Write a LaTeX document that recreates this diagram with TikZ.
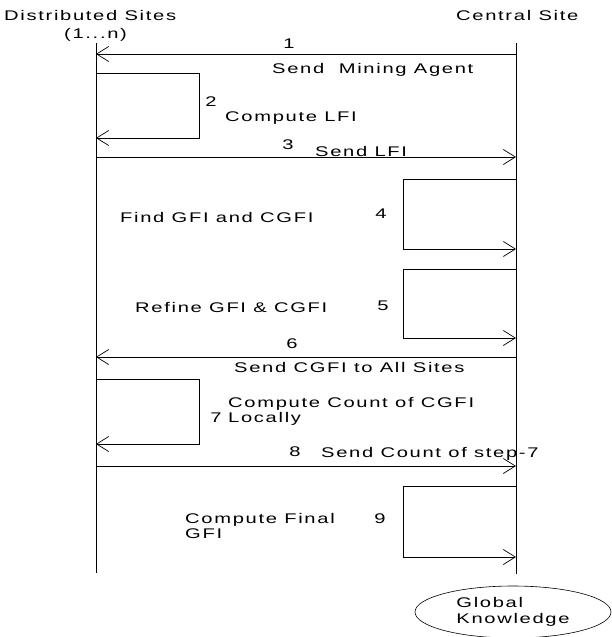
\documentclass[tikz,border=0pt]{standalone}
\usepackage{fontspec}
\newfontfamily\diagfont[FakeStretch=1.44,LetterSpace=12]{Liberation Sans}
\usetikzlibrary{arrows.meta,shapes.geometric}
\newcommand{\msgsize}{\fontsize{14}{15.5}\selectfont}
\tikzset{
 every node/.append style={font=\diagfont\msgsize,text=black,inner sep=0pt},
 lifeline/.style={draw=black,line width=.9pt},
 msg/.style={-{Straight Barb[length=12pt,width=15pt,line width=.7pt]},draw=black,line width=.9pt},
 lbl/.style={anchor=west,text height=10pt,text depth=0pt},
 twoline/.style={anchor=north west,align=left},
 stepnum/.style={anchor=center,text height=10pt,text depth=0pt},
 store/.style={ellipse,draw=black,line width=.6pt,minimum width=196pt,minimum height=52pt,align=left},
}

\begin{document}
\begin{tikzpicture}[x=1pt,y=-1pt]

\useasboundingbox (0,0) rectangle (611,637);
\node[lbl] (dist) at (4,15) {Distributed Sites};
\node[lbl] (range) at (64,33) {(1...n)};
\node[lbl] (central) at (456,15) {Central Site};
\coordinate (Ltop) at (96,43); \coordinate (Lbot) at (96,573);
\coordinate (Rtop) at (516,43); \coordinate (Rbot) at (516,574);
\draw[lifeline] (Ltop) -- (Lbot); \draw[lifeline] (Rtop) -- (Rbot);
% messages between the sites
\coordinate (r1) at (516,54); \coordinate (l1) at (96,54);
\draw[msg] (r1) -- (l1);
\node[stepnum] (n1) at (289,43) {1};
\node[lbl] (t1) at (272,68) {Send\ \ Mining Agent};
\coordinate (l2a) at (96,73); \coordinate (l2b) at (96,138);
\draw[msg] (l2a) -- ++(103,0) |- (l2b);
\node[stepnum] (n2) at (211,101) {2};
\node[lbl] (t2) at (225,116) {Compute LFI};
\coordinate (l3) at (96,157); \coordinate (r3) at (516,157);
\draw[msg] (l3) -- (r3);
\node[stepnum] (n3) at (288,144) {3};
\node[lbl] (t3) at (315,151) {Send LFI};
\coordinate (r4a) at (516,179); \coordinate (r4b) at (516,249);
\draw[msg] (r4a) -- ++(-113,0) |- (r4b);
\node[stepnum] (n4) at (381,213) {4};
\node[lbl] (t4) at (120,217) {Find GFI and CGFI};
\coordinate (r5a) at (516,269); \coordinate (r5b) at (516,338);
\draw[msg] (r5a) -- ++(-113,0) |- (r5b);
\node[stepnum] (n5) at (383,305) {5};
\node[lbl] (t5) at (135,307) {Refine GFI \& CGFI};
\coordinate (r6) at (516,357); \coordinate (l6) at (96,357);
\draw[msg] (r6) -- (l6);
\node[stepnum] (n6) at (292,343) {6};
\node[lbl] (t6) at (234,367) {Send CGFI to All Sites};
\coordinate (l7a) at (96,379); \coordinate (l7b) at (96,444);
\draw[msg] (l7a) -- ++(103,0) |- (l7b);
\node[stepnum] (n7) at (216,417) {7};
\node[twoline] (t7) at (228,397) {Compute Count of CGFI\\Locally};
\coordinate (l8) at (96,466); \coordinate (r8) at (516,466);
\draw[msg] (l8) -- (r8);
\node[stepnum] (n8) at (295,451) {8};
\node[lbl] (t8) at (321,452) {Send Count of step-7};
\coordinate (r9a) at (516,486); \coordinate (r9b) at (516,557);
\draw[msg] (r9a) -- ++(-113,0) |- (r9b);
\node[stepnum] (n9) at (380,518) {9};
\node[twoline] (t9) at (185,513) {Compute Final\\GFI};
\node[store] (gk) at (513,612) {Global\\Knowledge};

\end{tikzpicture}
\end{document}
